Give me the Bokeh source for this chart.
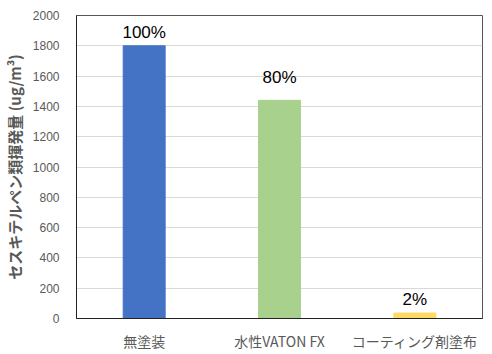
from bokeh.plotting import figure
from bokeh.models import ColumnDataSource, FixedTicker, Range1d
from bokeh.core.properties import value
from bokeh.embed import file_html
from bokeh.resources import INLINE

categories = ["無塗装", "水性VATON FX", "コーティング剤塗布"]
values = [1800, 1440, 36]
labels = ["100%", "80%", "2%"]
colors = ["#4472C4", "#A9D18E", "#FFD966"]
label_offsets = [-13, -23, -14]
y_ticks = [0, 200, 400, 600, 800, 1000, 1200, 1400, 1600, 1800, 2000]

src = ColumnDataSource(dict(cat=categories, val=values, lab=labels, col=colors, off=label_offsets))

p = figure(x_range=categories, y_range=Range1d(0, 2000), width=492, height=354,
           output_backend="svg", toolbar_location=None,
           min_border_left=74, min_border_right=10, min_border_top=15, min_border_bottom=36)

p.vbar(x="cat", top="val", width=0.31, color="col", source=src)
p.text(x="cat", y="val", text="lab", y_offset="off", source=src,
       text_align="center", text_baseline="middle", text_font_size="17px",
       text_font=value("Liberation Sans"), text_color="#000000")

p.yaxis.ticker = FixedTicker(ticks=y_ticks)
p.yaxis.axis_label = "セスキテルペン類揮発量 (ug/m³)"
p.yaxis.axis_label_text_font = "Noto Sans CJK JP"
p.yaxis.axis_label_text_font_style = "bold"
p.yaxis.axis_label_text_font_size = "15px"
p.yaxis.axis_label_text_color = "#595959"
p.yaxis.axis_label_standoff = 5
p.yaxis.major_label_text_font = "Liberation Sans"
p.yaxis.major_label_text_font_size = "12px"
p.yaxis.major_label_text_color = "#595959"
p.yaxis.major_tick_line_color = None
p.yaxis.minor_tick_line_color = None
p.yaxis.axis_line_color = "#222222"
p.yaxis.major_label_standoff = 11

p.xaxis.major_label_text_font = "Noto Sans CJK JP"
p.xaxis.major_label_text_font_size = "14px"
p.xaxis.major_label_text_color = "#595959"
p.xaxis.major_tick_line_color = None
p.xaxis.axis_line_color = "#222222"
p.xaxis.major_label_standoff = 6

p.xgrid.grid_line_color = None
p.ygrid.grid_line_color = "#D9D9D9"
p.outline_line_color = "#555555"
p.outline_line_width = 1
p.background_fill_color = "white"
p.border_fill_color = "white"

open("out.html", "w").write(file_html(p, INLINE))
